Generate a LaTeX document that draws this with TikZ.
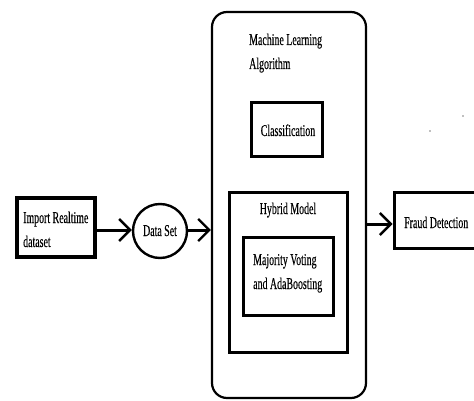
\documentclass[tikz,border=0pt]{standalone}
\usepackage{fontspec}
\setmainfont[FakeStretch=0.6,FakeBold=0.25]{Liberation Serif}
\usetikzlibrary{arrows.meta}
\tikzset{
  box/.style={draw, line width=3pt, inner sep=0pt, minimum width=#1},
  lbl/.style={inner sep=0pt, font=\fontsize{16.5}{24}\selectfont, align=left},
  conn/.style={line width=3pt, -{Straight Barb[length=11pt,width=22pt,line width=2.4pt]}},
}
\begin{document}
\begin{tikzpicture}[x=1pt,y=-1pt]
\useasboundingbox (0,0) rectangle (474,401);
% container
\node[draw, line width=2.2pt, rounded corners=15pt, minimum width=154pt, minimum height=386pt, inner sep=0pt] (ml) at (289,205) {};
\node[lbl, anchor=base west] (mltxt) at (249,69) {Machine Learning\\Algorithm};
% classification
\node[box=71pt, minimum height=54pt] (cls) at (286.5,130) {};
\node[lbl, anchor=base] (clstxt) at (288,136) {Classification};
% hybrid
\node[box=118pt, minimum height=160pt] (hyb) at (288,272) {};
\node[lbl, anchor=base] (hybtxt) at (288,214) {Hybrid Model};
% inner
\node[box=90pt, minimum height=78pt] (mv) at (288,276) {};
\node[lbl, anchor=base west] (mvtxt) at (253,289) {Majority Voting\\and AdaBoosting};
% import
\node[box=78pt, minimum height=59pt, line width=3.4pt] (imp) at (56,227.5) {};
\node[lbl, anchor=base west] (imptxt) at (23,247) {Import Realtime\\dataset};
% data set
\node[draw, circle, line width=2.4pt, minimum size=54pt, inner sep=0pt] (ds) at (160,231) {};
\node[lbl, anchor=base] (dstxt) at (160,236) {Data Set};
% fraud
\node[box=83pt, minimum height=56pt] (fr) at (435.5,220) {};
\node[lbl, anchor=base west] (frtxt) at (404,228) {Fraud Detection};
% dots
\fill[gray] (463,116) circle (0.8pt);
\fill[gray] (430,131) circle (0.8pt);
% connectors
\coordinate (a1) at (imp.east |- 0,230);
\coordinate (a2) at (ds.west |- 0,230);
\coordinate (b1) at (ds.east |- 0,230);
\coordinate (b2) at (ml.west |- 0,230);
\coordinate (c1) at (ml.east |- 0,224);
\coordinate (c2) at (fr.west |- 0,224);
\draw[conn] (a1) -- (a2);
\draw[conn] (b1) -- (b2);
\draw[conn] (c1) -- (c2);
\end{tikzpicture}
\end{document}
